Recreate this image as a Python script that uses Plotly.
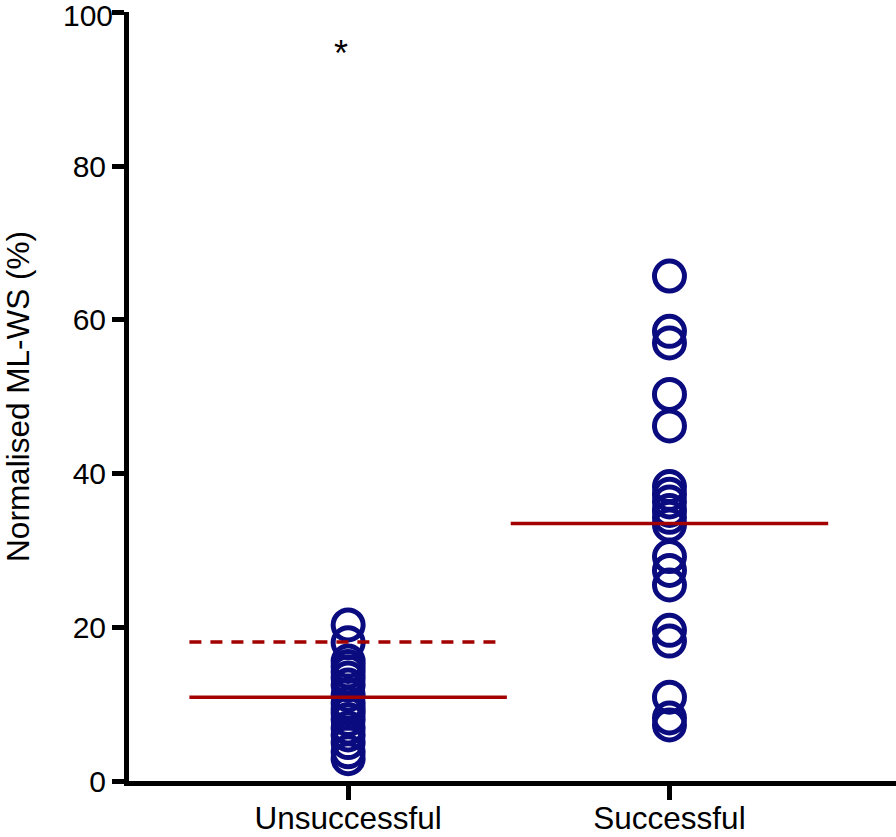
import plotly.graph_objects as go

categories = ["Unsuccessful", "Successful"]
unsuccessful_values = [20.3, 18.0, 15.6, 14.9, 14.2, 13.4, 12.5, 11.2, 10.1, 9.4,
                       8.8, 8.0, 6.9, 6.0, 5.0, 3.8, 2.9]
successful_values = [65.7, 58.5, 57.0, 50.3, 46.2, 38.3, 37.3, 36.3, 35.2, 34.3,
                     33.3, 29.2, 27.4, 25.5, 19.6, 18.2, 10.9, 8.2, 7.3]
mean_lines = [10.9, 33.5]          # solid lines per group
threshold_unsuccessful = 18.1      # dashed line
asterisk_value = 95.7
y_ticks = [0, 20, 40, 60, 80, 100]
y_ticklabels = ["0", "20", "40", "60", "80", "100"]

navy = "#0b0b80"
red = "#a30000"
FONT = "Liberation Sans, Arial, sans-serif"

fig = go.Figure()

groups = [unsuccessful_values, successful_values]
for i, vals in enumerate(groups):
    fig.add_trace(go.Scatter(
        x=[i] * len(vals), y=vals, mode="markers",
        marker=dict(symbol="circle-open", size=30, color=navy,
                    line=dict(width=5, color=navy)),
        showlegend=False, hoverinfo="y"))

for i, m in enumerate(mean_lines):
    fig.add_trace(go.Scatter(
        x=[i - 0.494, i + 0.494], y=[m, m], mode="lines",
        line=dict(color=red, width=3.5), showlegend=False))

fig.add_trace(go.Scatter(
    x=[-0.494, 0.466], y=[threshold_unsuccessful] * 2, mode="lines",
    line=dict(color=red, width=3.5, dash="12px,9px"), showlegend=False))

fig.add_annotation(x=-0.022, y=asterisk_value, text="*", showarrow=False,
                   yshift=-8, font=dict(size=36, color="black", family=FONT))

# top tick label drawn as annotation (plotly drops it at the figure edge)
fig.add_annotation(x=0, xref="paper", y=y_ticks[-1], yref="y", text=y_ticklabels[-1],
                   showarrow=False, xanchor="right", yanchor="middle", xshift=-15,
                   yshift=-3, borderpad=0,
                   font=dict(size=30, color="black", family=FONT))

fig.update_layout(
    width=896, height=837,
    margin=dict(l=129, r=0, t=12, b=56),
    plot_bgcolor="white", paper_bgcolor="white",
    font=dict(family=FONT, color="black"),
    xaxis=dict(range=[-0.682, 1.705], tickvals=[0, 1], ticktext=categories,
               automargin=False, ticklabelstandoff=-9,
               showline=True, linewidth=5, linecolor="black",
               ticks="outside", ticklen=14, tickwidth=5, tickcolor="black",
               showgrid=False, zeroline=False, tickfont=dict(size=31.5)),
    yaxis=dict(range=[0, 100.05], tickvals=y_ticks,
               ticktext=y_ticklabels[:-1] + [""], automargin=False,
               showline=True, linewidth=5, linecolor="black",
               ticks="outside", ticklen=12, tickwidth=5, tickcolor="black",
               showgrid=False, zeroline=False, tickfont=dict(size=30),
               title=dict(text="Normalised ML-WS (%)", font=dict(size=31.5), standoff=37)),
)

fig.write_html("out.html", post_script="document.body.style.margin='0';",
               config={"displayModeBar": False})
